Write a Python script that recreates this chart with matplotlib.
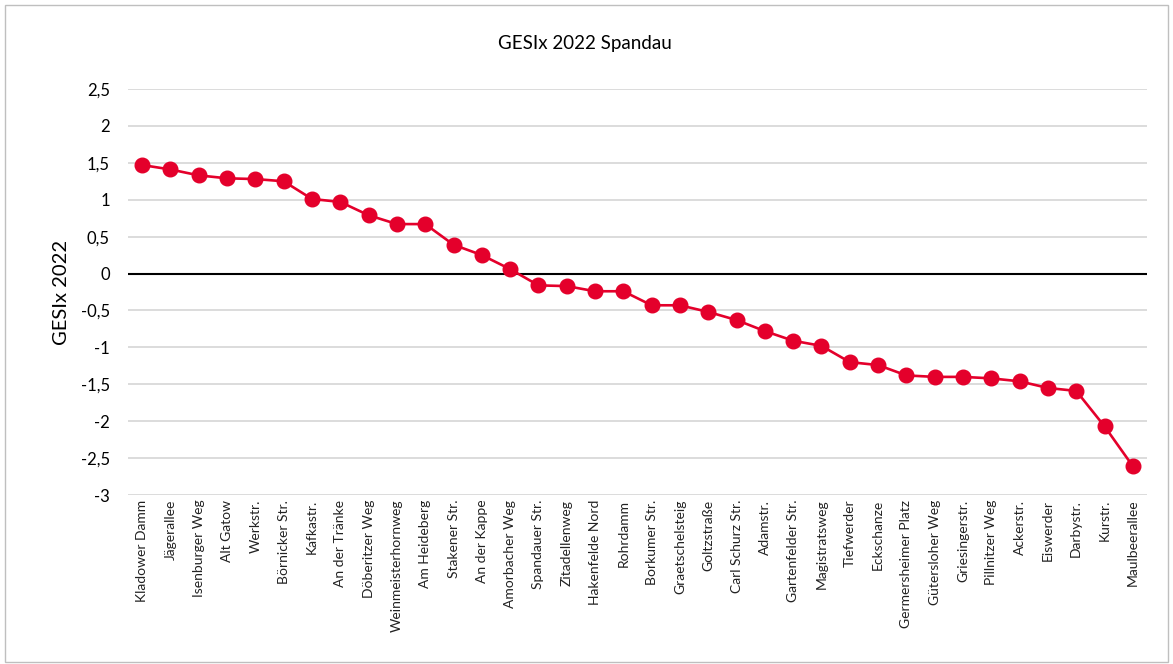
import numpy as np
import matplotlib.pyplot as plt
from matplotlib.patches import Rectangle
from matplotlib.ticker import FuncFormatter

plt.rcParams['font.family'] = ['Lato', 'DejaVu Sans']

streets = ['Kladower Damm', 'Jägerallee', 'Isenburger Weg', 'Alt Gatow', 'Werkstr.',
           'Börnicker Str.', 'Kafkastr.', 'An der Tränke', 'Döberitzer Weg',
           'Weinmeisterhornweg', 'Am Heideberg', 'Stakener Str.', 'An der Kappe',
           'Amorbacher Weg', 'Spandauer Str.', 'Zitadellenweg', 'Hakenfelde Nord',
           'Rohrdamm', 'Borkumer Str.', 'Graetschelsteig', 'Goltzstraße',
           'Carl Schurz Str.', 'Adamstr.', 'Gartenfelder Str.', 'Magistratsweg',
           'Tiefwerder', 'Eckschanze', 'Germersheimer Platz', 'Gütersloher Weg',
           'Griesingerstr.', 'Pillnitzer Weg', 'Ackerstr.', 'Eiswerder', 'Darbystr.',
           'Kurstr.', 'Maulbeerallee']
gesix = [1.47, 1.41, 1.33, 1.29, 1.28, 1.25, 1.01, 0.97, 0.79, 0.67, 0.67, 0.39,
         0.25, 0.06, -0.16, -0.17, -0.24, -0.24, -0.43, -0.43, -0.52, -0.63, -0.78,
         -0.91, -0.98, -1.20, -1.24, -1.38, -1.40, -1.40, -1.42, -1.46, -1.55, -1.59,
         -2.07, -2.61]
yticks = [-3, -2.5, -2, -1.5, -1, -0.5, 0, 0.5, 1, 1.5, 2, 2.5]

fig = plt.figure(figsize=(11.73, 6.64), dpi=100)
ax = fig.add_axes([128 / 1173, 1 - 495 / 664, (1147 - 128) / 1173, (495 - 89) / 664])

x = np.arange(len(streets))
ax.plot(x, gesix, color='#e4002b', lw=1.9, marker='o', ms=10.5, zorder=3)

ax.set_xlim(-0.5, len(streets) - 0.5)
ax.set_ylim(-3, 2.5)
ax.set_yticks(yticks)
ax.yaxis.set_major_formatter(FuncFormatter(lambda v, p: ('%g' % v).replace('.', ',')))
ax.grid(axis='y', color='#d9d9d9', lw=1.3)
ax.axhline(0, color='black', lw=1.5, zorder=2)
ax.set_axisbelow(True)
for s in ax.spines.values():
    s.set_visible(False)
ax.tick_params(length=0)
ax.tick_params(axis='y', labelsize=12, pad=13)
ax.set_xticks(x)
ax.set_xticklabels(streets, rotation=90, fontsize=10, color='#222222')

ax.set_ylabel('GESIx 2022', fontsize=14.5, labelpad=8)
fig.text(0.499, 1 - 43 / 664, 'GESIx 2022 Spandau', ha='center', va='center', fontsize=13.5)

fig.patches.append(Rectangle((0.004, 0.003), 0.992, 0.99, transform=fig.transFigure,
                             fill=False, edgecolor='#bfbfbf', lw=1))

fig.savefig('out.png', dpi=100)
